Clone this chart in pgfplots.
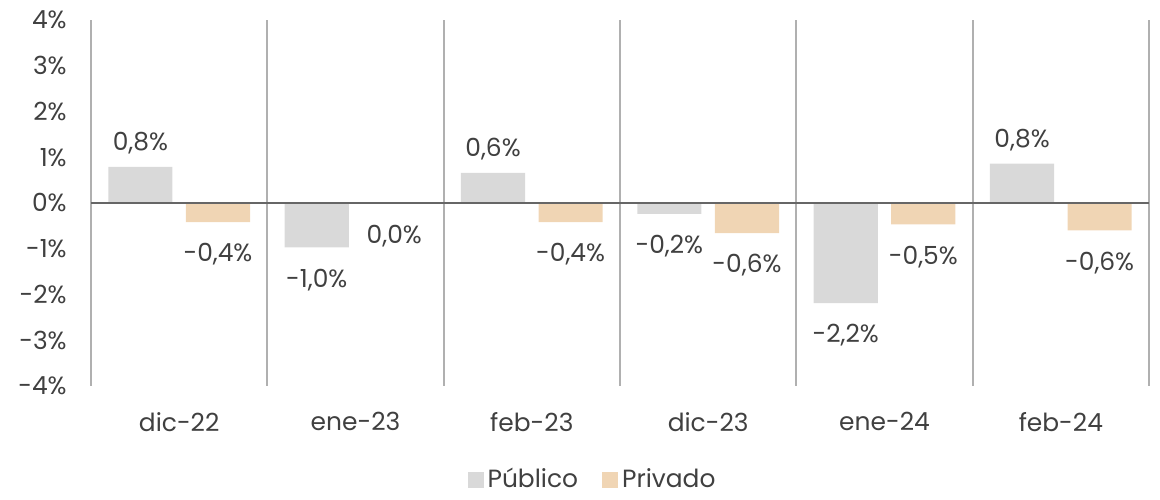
\documentclass[border=0pt]{standalone}
\usepackage{fontspec}
\setmainfont{Poppins}
\usepackage{pgfplots}
\usepackage{pgfplotstable}
\pgfplotsset{compat=1.18}
\definecolor{publico}{HTML}{D9D9D9}
\definecolor{privado}{HTML}{F0D5B4}
\definecolor{txt}{HTML}{404040}
\definecolor{sep}{HTML}{B0B0B0}

% x = category index, v = value in %, l = label
\pgfplotstableread{
x v l
0 0.79 {0,8\%}
1 -0.97 {-1,0\%}
2 0.66 {0,6\%}
3 -0.24 {-0,2\%}
4 -2.19 {-2,2\%}
5 0.86 {0,8\%}
}\publico
\pgfplotstableread{
x v l
0 -0.42 {-0,4\%}
1 -0.02 {0,0\%}
2 -0.42 {-0,4\%}
3 -0.66 {-0,6\%}
4 -0.47 {-0,5\%}
5 -0.60 {-0,6\%}
}\privado

\begin{document}
\fontsize{12}{14}\selectfont
\begin{tikzpicture}
\begin{axis}[
  width=529bp, height=183bp, scale only axis,
  xmin=-0.5, xmax=5.5, ymin=-4, ymax=4,
  axis line style={draw=none},
  xtick={0,...,5},
  xticklabels={dic-22,ene-23,feb-23,dic-23,ene-24,feb-24},
  minor xtick={-0.5,0.5,...,5.5},
  xminorgrids=true,
  minor grid style={sep, line width=0.9bp},
  ytick={-4,...,4},
  yticklabel={\pgfmathprintnumber{\tick}\%},
  /pgf/number format/assume math mode=true,
  major tick length=0pt, minor tick length=0pt,
  tick label style={font=\fontsize{12.5}{14}\selectfont, text=txt},
  xticklabel style={yshift=-9bp},
  yticklabel style={xshift=-8bp},
  ybar, bar width=0.364,
  nodes near coords,
  point meta=explicit symbolic,
  visualization depends on={rawy \as \rawy},
  every node near coord/.append style={font=\fontsize{12.5}{14}\selectfont, text=txt},
  every node near coord/.append code={%
    \ifdim\rawy pt<0pt \pgfkeysalso{anchor=north, yshift=-6.5bp}%
    \else \pgfkeysalso{anchor=south, yshift=2bp}\fi},
  legend style={at={(0.475,-0.257)}, anchor=center, draw=none,
    legend columns=2, font=\fontsize{12.5}{14}\selectfont, text=txt,
    /tikz/every even column/.append style={column sep=10bp}},
  legend image code/.code={\fill[#1] (0bp,-4bp) rectangle (8bp,4bp);},
]
\addplot[fill=publico, draw=none, bar shift=-0.22] table[x=x, y=v, meta=l] {\publico};
\addplot[fill=privado, draw=none, bar shift=0.22] table[x=x, y=v, meta=l] {\privado};
\draw[color=txt!80, line width=0.9bp] (axis cs:-0.5,0) -- (axis cs:5.5,0);
\legend{Público, Privado}
\end{axis}
\path (current axis.east) ++(5.5bp,0) (current axis.west) ++(-45.5bp,0)
  (current axis.north) ++(0,10bp) (current axis.south) ++(0,-53.5bp);
\end{tikzpicture}
\end{document}
